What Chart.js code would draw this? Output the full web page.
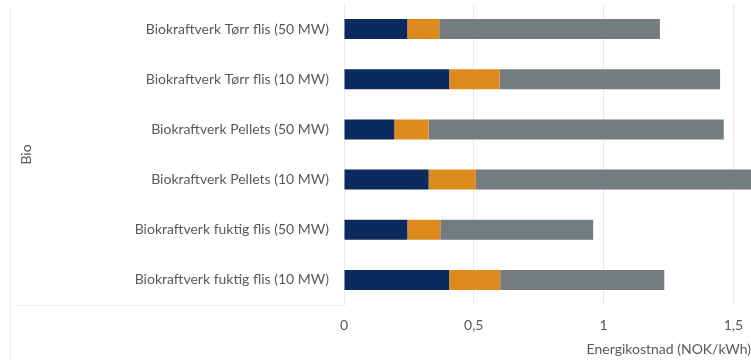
<!DOCTYPE html>
<html>
<head>
<meta charset="utf-8">
<script src="https://cdn.jsdelivr.net/npm/chart.js@4/dist/chart.umd.min.js"></script>
<style>
  html, body { margin: 0; padding: 0; background: #ffffff; overflow: hidden; }
  #wrap { width: 751px; height: 360px; position: relative; }
</style>
</head>
<body>
<div id="wrap"><canvas id="c" width="751" height="360"></canvas></div>
<script>
// Energy cost per plant type, split into three cost components (NOK/kWh)
const categories = [
  'Biokraftverk Tørr flis (50 MW)',
  'Biokraftverk Tørr flis (10 MW)',
  'Biokraftverk Pellets (50 MW)',
  'Biokraftverk Pellets (10 MW)',
  'Biokraftverk fuktig flis (50 MW)',
  'Biokraftverk fuktig flis (10 MW)'
];
const kapital = [0.244, 0.405, 0.194, 0.326, 0.244, 0.405];
const driftVedlikehold = [0.123, 0.195, 0.132, 0.182, 0.127, 0.197];
const brensel = [0.850, 0.849, 1.137, 1.140, 0.589, 0.632];
const xTicks = [0, 0.5, 1, 1.5];
const groupLabel = 'Bio';
const xTitle = 'Energikostnad (NOK/kWh)';

const FONT = 'Lato, "Open Sans", sans-serif';
const TEXT = '#595959';

// Faint frame lines around the category label block
const frameLines = {
  id: 'frameLines',
  beforeDatasetsDraw(chart) {
    const { ctx, chartArea } = chart;
    ctx.save();
    ctx.strokeStyle = '#ececec';
    ctx.lineWidth = 1;
    ctx.beginPath();
    ctx.moveTo(10.5, chartArea.top + 2);
    ctx.lineTo(10.5, 360);
    ctx.moveTo(15, chartArea.bottom + 0.5);
    ctx.lineTo(chartArea.left, chartArea.bottom + 0.5);
    ctx.stroke();
    ctx.restore();
  }
};

new Chart(document.getElementById('c'), {
  type: 'bar',
  data: {
    labels: categories,
    datasets: [
      { label: 'Kapital', data: kapital, backgroundColor: '#0b2b5e' },
      { label: 'Drift og vedlikehold', data: driftVedlikehold, backgroundColor: '#dd8a1f' },
      { label: 'Brensel', data: brensel, backgroundColor: '#737d7f' }
    ]
  },
  options: {
    indexAxis: 'y',
    responsive: false,
    animation: false,
    layout: { padding: { top: 4, right: 0, bottom: 0, left: 0 } },
    datasets: { bar: { categoryPercentage: 1, barPercentage: 0.4 } },
    plugins: { legend: { display: false }, tooltip: { enabled: false } },
    scales: {
      x: {
        stacked: true,
        min: 0,
        max: 1.568,
        afterBuildTicks(scale) {
          scale.ticks = xTicks.map(v => ({ value: v }));
        },
        afterFit(scale) {
          scale.height = 55;
          scale.paddingLeft = 0;
          scale.paddingRight = 0;
        },
        grid: { color: '#e9e9e9', drawTicks: false },
        border: { display: false },
        ticks: {
          padding: 12,
          color: TEXT,
          font: { family: FONT, size: 14 },
          callback: v => String(v).replace('.', ',')
        },
        title: {
          display: true,
          text: xTitle,
          align: 'end',
          color: TEXT,
          font: { family: FONT, size: 14 },
          padding: { top: 0, bottom: 2 }
        }
      },
      y: {
        stacked: true,
        afterFit(scale) {
          scale.width = 344;
          scale.paddingTop = 0;
          scale.paddingBottom = 0;
        },
        grid: { display: false, drawTicks: false },
        border: { display: true, color: '#ececec' },
        ticks: {
          padding: 15,
          color: TEXT,
          font: { family: FONT, size: 14 }
        },
        title: {
          display: true,
          text: groupLabel,
          color: TEXT,
          font: { family: FONT, size: 14 },
          padding: { top: 18, bottom: 0 }
        }
      }
    }
  },
  plugins: [frameLines]
});
</script>
</body>
</html>
